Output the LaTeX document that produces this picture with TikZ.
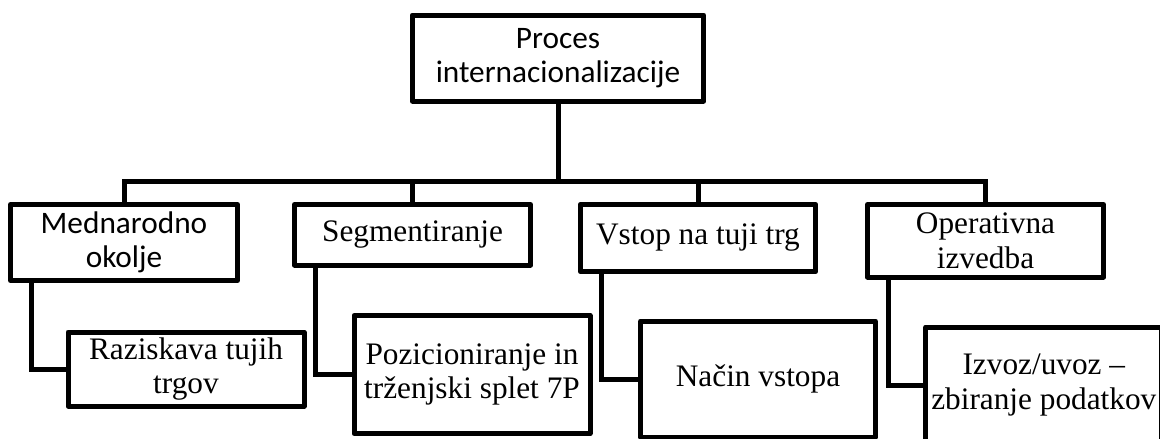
\documentclass[tikz,border=0pt]{standalone}
\usepackage{fontspec}
\setmainfont{Liberation Serif}
\newfontfamily\calibri{Carlito}
\usetikzlibrary{calc}

\def\boxfont{\fontsize{31.3}{34.5}\selectfont}
\tikzset{
	box/.style={draw, line width=5pt, line join=round, inner sep=0pt, align=center, font=\boxfont},
	sans/.style={font=\calibri\boxfont},
	link/.style={line width=5pt}
}

\begin{document}
\begin{tikzpicture}[x=1pt, y=-1pt]
	\useasboundingbox (0,0) rectangle (1160,439);
	\def\off{23.5} % connector offset from left side
	\coordinate (B) at (0,181); % height of the bus
	
	% top box
	\node[box, sans, minimum width=291.5, minimum height=86] (P) at (558,58) {Proces\\internacionalizacije};
	
	% second row
	\node[box, sans, minimum width=227, minimum height=76] (M) at (124,242.5) {Mednarodno\\okolje};
	\node[box, minimum width=236, minimum height=60.5] (S) at (412.5,234.75) {Segmentiranje};
	\node[box, minimum width=235.5, minimum height=67] (V) at (698,238) {Vstop na tuji trg};
	\node[box, minimum width=236, minimum height=72.5] (O) at (985.5,240.75) {Operativna\\izvedba};
	
	% third row
	\node[box, minimum width=236, minimum height=74] (R) at (186,369) {Raziskava tujih\\trgov};
	\node[box, minimum width=236, minimum height=118] (Z) at (472,374.6) {Pozicioniranje in\\trženjski splet 7P};
	\node[box, minimum width=234.5, minimum height=116] (N) at (758,379) {Način vstopa};
	\node[box, minimum width=236, minimum height=116] (I) at (1043.8,385) {Izvoz/uvoz --\\zbiranje podatkov};
	
	% bus from the top box
	\draw[link] (P.south) -- (P.south |- B);
	\draw[link] (M.north) |- (O.north |- B) -- (O.north);
	\draw[link] (S.north) -- (S.north |- B);
	\draw[link] (V.north) -- (V.north |- B);
	
	% elbows down to the third row
	\foreach \a/\b in {M/R, S/Z, V/N, O/I}
	\draw[link] ([xshift=\off pt]\a.south west) |- (\b.west);
\end{tikzpicture}
\end{document}
